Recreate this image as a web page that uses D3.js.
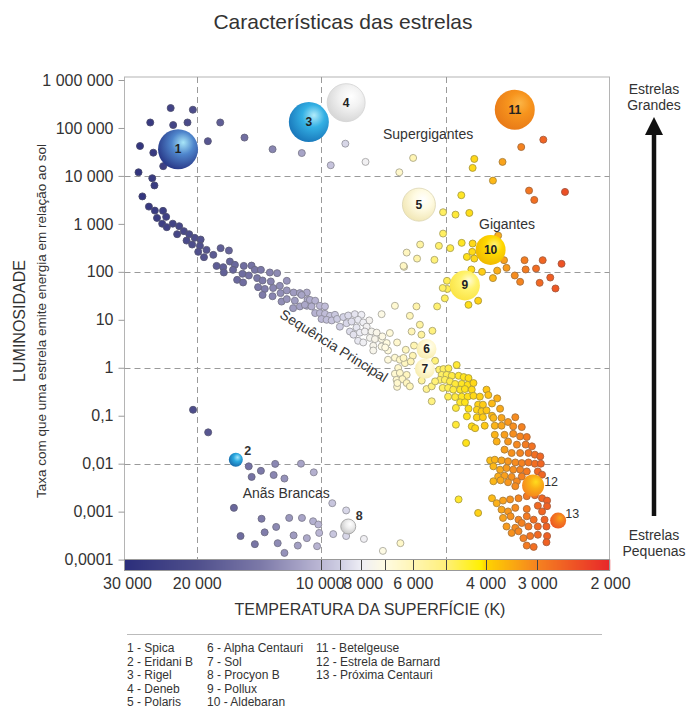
<!DOCTYPE html>
<html><head><meta charset="utf-8">
<script src="https://cdn.jsdelivr.net/npm/d3@7"></script>
<style>body{margin:0;background:#fff} svg{display:block;font-family:"Liberation Sans",Arial,sans-serif}</style>
</head><body><svg id="c" width="686" height="709"></svg>
<script>
// ---------- DATA ----------
const lumTicks=[1e6,1e5,1e4,1e3,100,10,1,0.1,0.01,0.001,0.0001];
const lumLabels=["1 000 000","100 000","10 000","1 000","100","10","1","0,1","0,01","0,001","0,0001"];
const tempTicks=[30000,20000,10000,8000,6000,4000,3000,2000];
const tempLabels=["30 000","20 000","10 000","8 000","6 000","4 000","3 000","2 000"];
const gridTemps=[20000,10000,5000];
const gridLums=[1e4,100,1,0.01];
const barDividers=[10000,9000,8000,7000,6000,5000,4000,3000];
const colorTemps=[30000,20000,14000,10000,9000,8000,7000,6000,5000,4100,4000,3000,2000];
const colorHex=["#2b2e7b","#4f4f8c","#7c79a8","#bcb8d5","#cfcee3","#eeeef5","#fffbe2","#fff5b5","#fff07a","#fff000","#ffd400","#f58220","#e8262a"];
const dotTemps=[30000,20000,14000,10000,9000,8000,7000,6000,5000,4500,4000,3500,3000,2500,2000];
const dotHex=["#2b2e7b","#4f4f8c","#7c79a8","#bcb8d5","#cfcee3","#eeeef5","#fffbe2","#fff5b5","#ffef5a","#ffe41a","#ffc814","#f7941d","#f26a22","#ec4a25","#e8262a"];

// [temperature K, luminosity (Sol = 1)]
const supergiants=[[23130,2.6e5],[20440,2.4e5],[25920,1.3e5],[22810,1.15e5],[21060,1.3e5],[17550,1.3e5],[27440,4.2e4],[25480,3.05e4],[24110,1.6e4],[18800,5.3e4],[15330,6.3e4],[13110,3.6e4],[11140,3.0e4],[9480,1.67e4],[8740,4.7e4],[7810,1.96e4],[27670,1.19e4],[25630,8950],[25320,6340],[27080,3740],
[5990,2.37e4],[6470,1.19e4],[4260,2.26e4],[4300,1.47e4],[3640,1.96e4],[3280,4.0e4],[2900,5.7e4],[3840,7980],[3140,4940],[2570,4640],[3050,3160],[4580,3960]];

const mainSequence=[[26110,2290],[25260,1890],[24140,1870],[24960,1330],[23720,1400],[24250,1010],[23640,853],[22860,1010],[22060,895],[22310,610],[21490,705],[20860,610],[20230,511],[19570,471],[21170,449],[20520,371],[19650,348],[19840,261],
[18940,287],[18240,226],[17510,312],[16720,278],[19210,202],[17910,133],[17260,125],[17200,97],[16630,164],[16170,140],[16340,110],[15390,133],[14740,135],[15500,91],[14960,84],[14470,110],[13990,110],[15970,68],[15450,60],[14290,74],[13860,66],[13310,97],[12780,94],[14210,48],[13690,44],[13240,63],[13070,46],[12590,51],[12110,65],[13860,33],[13110,31],[12540,36],[12110,41],[11660,37],[11260,36],[12470,24],[12110,27],[11580,25],[11690,17.5],[11260,19],[10790,26],[10830,19.6],
[10830,37],[11150,33],[10650,26],[10340,25],[10070,19.6],[9790,19],[10950,20.5],[10550,19],[10340,13.8],[10070,13.8],[9790,13.3],[9520,12.1],[9260,12.7],[9980,10.4],[9700,10],[9430,9.7],[9150,10.4],[8840,11.4],[8600,12.3],[8290,13.1],[7990,12.7],[7650,9.7],[9010,7.2],[8680,8.5],[8440,9.2],[8140,10],[7910,8.8],[7760,7.2],[8210,6.9],[8520,5.7],[8350,4.9],[8060,5.4],[7840,5.7],[7550,5.7],[7340,5.4],[8140,3.65],[7910,3.37],[7620,4.2],[7410,3.96],[7140,3.96],[6820,5.3],[7480,2.87],[7480,2.29],[7140,2.78],[6940,3.27],[6630,19.6],[7140,13.1],[6890,2.29],[6630,1.62],[6890,1.47],[6450,1.47],[6270,1.25],[6510,0.99],[6630,0.75],[6450,0.78],[6210,0.71],[6570,0.56],[6360,0.58],[6550,0.40],[6210,0.48],[6100,0.41],[6100,12.1],[5880,19],[6040,5.7],[5770,7.9],[5720,4.9],[5380,5.9],[6550,3.37],[6240,2.37],[6000,1.78],[5240,19],[5020,28],[4950,44],[5300,1.4],[5560,0.36],[5400,0.20],
[7110,4.5],[7000,2.65],[5960,2.9],[6320,1.6],[6070,1.35],[6540,0.48],[5710,0.54],[5400,0.41],[5180,0.91],[5060,0.94],[4920,0.97],[4700,1.14],[5110,0.71],[5160,0.56],[5300,0.52]];

const giants=[[5070,1750],[4730,1560],[4380,1690],[5070,628],[3730,570],[5760,371],[5190,348],[4870,312],[4570,402],[4300,389],[6210,252],[5860,189],[5320,178],[4440,205],[4310,261],[4260,189],[6300,127],[3610,175],[3220,175],[2910,175],[2620,147],[4330,112],[4080,100],[3750,106],[3560,121],[3400,84],[3200,112],[3020,117],[3840,74],[3300,62],[2960,59],[2790,76],[2710,45],[4960,65],[5080,46],[6320,133],[4400,20.5],[4170,25]];

const redDwarfs=[[4970,0.71],[4830,0.68],[4650,0.68],[4520,0.64],[4400,0.61],[5020,0.56],[4880,0.52],[4740,0.46],[4570,0.46],[4420,0.44],[4280,0.48],[5080,0.38],[4930,0.38],[4790,0.35],[4610,0.35],[4490,0.36],[4320,0.35],[4930,0.25],[4740,0.245],[4570,0.25],[4420,0.25],[4280,0.26],[4130,0.25],[3980,0.35],[3940,0.27],[3750,0.23],[4610,0.19],[4490,0.19],[4400,0.14],[4170,0.17],[4060,0.17],[3860,0.18],[4200,0.133],[4090,0.123],[3980,0.129],[3860,0.1],[3690,0.14],[4720,0.145],[4440,0.097],[4200,0.092],[4060,0.093],[3830,0.09],[3660,0.09],[3390,0.093],[4720,0.065],[4320,0.06],[4240,0.055],[4020,0.062],[3800,0.062],[3660,0.062],[3530,0.074],[3430,0.06],[3270,0.058],[4460,0.027],[3800,0.04],[3600,0.04],[3430,0.042],[3300,0.037],[3180,0.036],[3760,0.029],[3530,0.029],[3360,0.025],[3200,0.025],[3090,0.023],[3600,0.0196],[3460,0.0167],[3300,0.0167],[3150,0.0167],[3040,0.0154],[2950,0.0142],[3900,0.0117],[3800,0.0121],[3660,0.0117],[3530,0.0112],[3390,0.0106],[3270,0.0103],[3150,0.0106],[3040,0.01],[2940,0.01],[3830,0.0088],[3690,0.0075],[3560,0.0081],[3430,0.0075],[3300,0.0075],[3180,0.0069],[2990,0.0069],[3730,0.0054],[3600,0.0056],[3460,0.0053],[3360,0.0043],[3270,0.0054],[2920,0.0059],[3830,0.0043],[3680,0.0045],[3530,0.0041],[3390,0.0034],[2990,0.003],[3860,0.0019],[3760,0.0015],[3630,0.0017],[3490,0.0018],[3330,0.0019],[3180,0.0021],[3040,0.0022],[2920,0.0019],[2840,0.0017],[3660,0.0011],[3530,0.00101],[3390,0.0012],[3180,0.00114],[2990,0.00133],[2920,0.00101],[2840,0.0013],[3630,0.00074],[3480,0.0008],[3330,0.00068],[3180,0.0008],[3060,0.00068],[2880,0.00068],[3560,0.00049],[3390,0.00046],[3270,0.00058],[3150,0.00049],[2990,0.00049],[2850,0.00049],[3460,0.00036],[3330,0.00039],[3240,0.00028],[3120,0.00031],[2990,0.00033],[2840,0.00031],[3180,0.000196],[3060,0.000184],[2850,0.00023],[4650,0.0018],[4170,0.00094]];

const whiteDwarfs=[[20420,0.133],[18770,0.045],[14970,0.0088],[13990,0.0071],[12920,0.0099],[11190,0.01],[14730,0.0053],[13030,0.0058],[12270,0.0049],[10420,0.0066],[16260,0.0012],[13940,0.00071],[11950,0.00074],[11130,0.00074],[10460,0.00063],[10160,0.00054],[9400,0.0015],[8700,0.00106],[12850,0.00048],[13700,0.00037],[15670,0.00031],[11660,0.00032],[10830,0.00028],[10110,0.00036],[9350,0.00034],[8700,0.00031],[7880,0.00027],[14470,0.00021],[12740,0.00022],[11390,0.000196],[10230,0.00019],[12270,0.000138],[7090,0.000152],[6430,0.00022]];

const namedNames=["Spica","Eridani B","Rigel","Deneb","Polaris","Alpha Centauri","Sol","Procyon B","Pollux","Aldebaran","Betelgeuse","Estrela de Barnard","Próxima Centauri"];
const namedTemp=[22200,16090,10710,8700,5800,5560,5610,8600,4490,3890,3400,3070,2670];
const namedLum=[3.6e4,0.0121,1.33e5,3.37e5,2520,2.45,0.95,0.00049,52,287,2.4e5,0.0035,0.00065];

const regionLabels=["Supergigantes","Gigantes","Anãs Brancas","Sequência Principal"];
const regionTemp=[5510,3550,12150,9310];
const regionLum=[7.5e4,1000,0.0024,2.9];

// ---------- STYLE ----------
const starStyle={
 "Spica":{r:20,c:["#a8e6f8","#4f86cc","#2b3d8c"]},
 "Eridani B":{r:7,c:["#a6e6fb","#2aa9e0","#1a6fae"],lx:12,ly:-9,bold:true},
 "Rigel":{r:20,c:["#b2ecfb","#33b0e4","#1b7bbd"]},
 "Deneb":{r:19,c:["#ffffff","#f2f2f2","#d8d8d8"],stroke:"#d3d3d3"},
 "Polaris":{r:16.5,c:["#ffffff","#fffbe3","#f2e8b8"],stroke:"#dcd5b2"},
 "Alpha Centauri":{r:10,c:["#fffef2","#fff8d2","#f7edb2"]},
 "Sol":{r:10,c:["#fffef2","#fff8d2","#f7edb2"]},
 "Procyon B":{r:7.5,c:["#ffffff","#ededed","#c9c9c9"],stroke:"#9a9a9a",lx:11,ly:-10,bold:true},
 "Pollux":{r:15,c:["#fffbd8","#fff36e","#fbe548"]},
 "Aldebaran":{r:15,c:["#fff27a","#ffd800","#f0bb00"]},
 "Betelgeuse":{r:20,c:["#fbb445","#f7941d","#e97c18"]},
 "Estrela de Barnard":{r:11,c:["#ffdc1e","#fbb016","#f58a1d"],lx:18,ly:-4},
 "Próxima Centauri":{r:8,c:["#faa81a","#f47c20","#ec5a24"],lx:14,ly:-7}
};
const textCol="#333";

// ---------- SCALES ----------
const svg=d3.select("#c");
const x=d3.scaleLog().domain([30000,2000]).range([124,610]);
const y=d3.scaleLog().domain([1e6,1e-4]).range([80,559.6]);
const color=d3.scaleLog().domain(colorTemps).range(colorHex).interpolate(d3.interpolateRgb);
const dotColor=d3.scaleLog().domain(dotTemps).range(dotHex).interpolate(d3.interpolateRgb);
const fr={l:124.5,t:77,r:609.5,b:559.5};

// title
svg.append("text").attr("x",343).attr("y",29).attr("text-anchor","middle")
  .attr("font-size",21).attr("fill",textCol).text("Características das estrelas");

// frame
svg.append("rect").attr("x",fr.l).attr("y",fr.t).attr("width",fr.r-fr.l).attr("height",fr.b-fr.t)
  .attr("fill","none").attr("stroke","#b4b4b4");

// grid
const grid=svg.append("g").attr("stroke","#9a9a9a").attr("stroke-dasharray","6,4").attr("stroke-width",1);
grid.selectAll(".gv").data(gridTemps).join("line")
  .attr("x1",d=>Math.round(x(d))+0.5).attr("x2",d=>Math.round(x(d))+0.5).attr("y1",fr.t).attr("y2",fr.b);
grid.selectAll(".gh").data(gridLums).join("line")
  .attr("y1",d=>Math.round(y(d))+0.5).attr("y2",d=>Math.round(y(d))+0.5).attr("x1",fr.l).attr("x2",fr.r);

// left axis
const ya=svg.append("g").attr("transform",`translate(${fr.l},0)`)
  .call(d3.axisLeft(y).tickValues(lumTicks).tickFormat((d,i)=>lumLabels[i]).tickSize(6).tickPadding(5));
ya.select(".domain").remove();
ya.selectAll("line").attr("stroke","#9a9a9a");
ya.selectAll("text").attr("font-size",16).attr("fill",textCol).attr("font-family",'"Liberation Sans",Arial,sans-serif');

// colour bar
const bar=svg.append("g");
const barTop=559.5, barH=11;
const pxs=d3.range(124,610,1);
bar.selectAll("rect").data(pxs).join("rect")
  .attr("x",d=>d).attr("y",barTop).attr("width",1.2).attr("height",barH)
  .attr("fill",d=>color(x.invert(d+0.5)));
bar.selectAll("line").data(barDividers).join("line")
  .attr("x1",d=>Math.round(x(d))+0.5).attr("x2",d=>Math.round(x(d))+0.5)
  .attr("y1",barTop).attr("y2",barTop+barH).attr("stroke","#444").attr("stroke-width",1);
bar.append("rect").attr("x",fr.l).attr("y",barTop).attr("width",fr.r-fr.l).attr("height",barH)
  .attr("fill","none").attr("stroke","#999");

// bottom axis labels
const nudge={30000:3,10000:-1.5,8000:1.5};
const xa=svg.append("g").attr("transform",`translate(0,${barTop+barH})`)
  .call(d3.axisBottom(x).tickValues(tempTicks).tickFormat((d,i)=>tempLabels[i]).tickSize(0));
xa.select(".domain").remove();
xa.selectAll("text").attr("y",18.5).attr("dy",0).attr("dx",d=>nudge[d]||0).attr("font-size",16).attr("fill",textCol)
  .attr("font-family",'"Liberation Sans",Arial,sans-serif');

// axis titles
svg.append("text").attr("x",370).attr("y",615).attr("text-anchor","middle").attr("font-size",16)
  .attr("fill",textCol).text("TEMPERATURA DA SUPERFÍCIE (K)");
svg.append("text").attr("transform","translate(25,321) rotate(-90)").attr("text-anchor","middle")
  .attr("font-size",16).attr("fill",textCol).text("LUMINOSIDADE");
svg.append("text").attr("transform","translate(46,321) rotate(-90)").attr("text-anchor","middle")
  .attr("font-size",13.5).attr("fill",textCol).text("Taxa com que uma estrela emite energia em relação ao sol");

// dots
const allDots=[...supergiants,...mainSequence,...giants,...whiteDwarfs,...redDwarfs];
svg.append("g").selectAll("circle").data(allDots).join("circle")
  .attr("cx",d=>x(d[0])).attr("cy",d=>y(d[1])).attr("r",3.5)
  .attr("fill",d=>dotColor(d[0]))
  .attr("stroke",d=>d3.interpolateRgb(dotColor(d[0]),"#5a5a5a")(0.5)).attr("stroke-width",0.9);

// region labels
svg.append("g").selectAll("text").data(regionLabels).join("text")
  .attr("transform",(d,i)=>`translate(${x(regionTemp[i])},${y(regionLum[i])}) rotate(${i===3?32:0})`)
  .attr("text-anchor","middle").attr("dominant-baseline","central")
  .attr("font-size",14).attr("fill",textCol).text(d=>d);

// named stars
const defs=svg.append("defs");
namedNames.forEach((n,i)=>{
  const s=starStyle[n];
  const g=defs.append("radialGradient").attr("id","g"+i).attr("cx","60%").attr("cy","38%").attr("r","62%").attr("fx","63%").attr("fy","33%");
  g.append("stop").attr("offset","0%").attr("stop-color",s.c[0]);
  g.append("stop").attr("offset","45%").attr("stop-color",s.c[1]);
  g.append("stop").attr("offset","100%").attr("stop-color",s.c[2]);
});
const ng=svg.append("g");
namedNames.forEach((n,i)=>{
  const s=starStyle[n], cx=x(namedTemp[i]), cy=y(namedLum[i]);
  ng.append("circle").attr("cx",cx).attr("cy",cy).attr("r",s.r).attr("fill",`url(#g${i})`)
    .attr("stroke",s.stroke||"none").attr("stroke-width",s.stroke?0.8:0);
  const inside=s.lx===undefined;
  ng.append("text").attr("x",cx+(inside?0:s.lx)).attr("y",cy+(inside?0:s.ly))
    .attr("text-anchor","middle").attr("dominant-baseline","central")
    .attr("font-size",inside?12:12.5).attr("font-weight",(inside||s.bold)?"bold":"normal")
    .attr("fill",inside?"#222":textCol).text(i+1);
});

// right arrow
const ax=654;
svg.append("line").attr("x1",ax).attr("x2",ax).attr("y1",516).attr("y2",132).attr("stroke","#111").attr("stroke-width",4.5);
svg.append("path").attr("d",`M${ax-9},135 L${ax+9},135 L${ax},117 Z`).attr("fill","#111");
[["Estrelas",94],["Grandes",110],["Estrelas",540],["Pequenas",556]].forEach(t=>{
  svg.append("text").attr("x",ax).attr("y",t[1]).attr("text-anchor","middle").attr("font-size",14)
    .attr("fill",textCol).text(t[0]);
});

// legend
svg.append("line").attr("x1",127).attr("x2",602).attr("y1",634.5).attr("y2",634.5).attr("stroke","#bbb");
const colX=[127,207,316];
svg.append("g").selectAll("text").data(namedNames).join("text")
  .attr("x",(d,i)=>colX[Math.floor(i/5)]).attr("y",(d,i)=>652+(i%5)*13.5)
  .attr("font-size",12).attr("fill",textCol).text((d,i)=>`${i+1} - ${d}`);
</script></body></html>
